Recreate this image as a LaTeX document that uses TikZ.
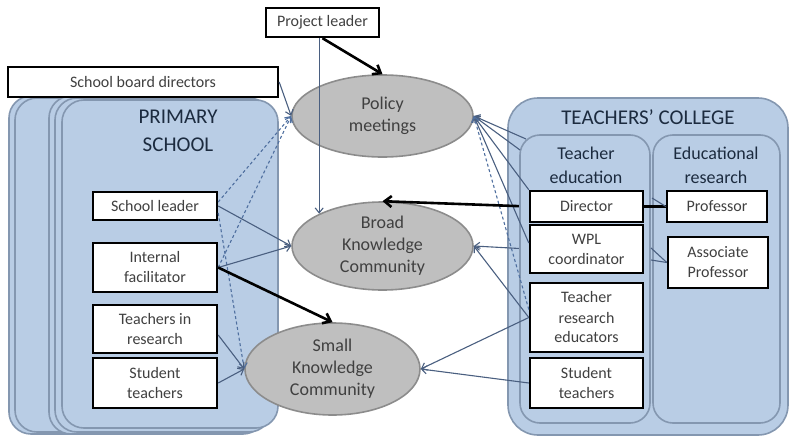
\documentclass[tikz,border=0pt]{standalone}
\usepackage{fontspec}
\setmainfont{Carlito}
\usetikzlibrary{shapes.geometric,arrows.meta,calc}
\definecolor{boxblue}{HTML}{B9CDE5}
\definecolor{boxedge}{HTML}{8497B0}
\definecolor{ellfill}{HTML}{BFBFBF}
\definecolor{elledge}{HTML}{8C8C8C}
\definecolor{txtgray}{HTML}{404040}
\definecolor{navy}{HTML}{1C2B3F}
\definecolor{conn}{HTML}{4A5F80}
\definecolor{dashc}{HTML}{4F6F9F}
\begin{document}
\begin{tikzpicture}[x=1pt,y=-1pt,
  container/.style={draw=boxedge, line width=1.6pt, fill=boxblue, rounded corners=22pt},
  role/.style={draw=black, line width=2.4pt, fill=white, inner sep=0pt, align=center, text=txtgray, font=\fontsize{16}{20}\selectfont},
  forum/.style={ellipse, draw=elledge, line width=1.6pt, fill=ellfill, inner sep=0pt, align=center, text=txtgray, font=\fontsize{18}{22}\selectfont},
  heading/.style={align=center, text=navy, font=\fontsize{21}{28}\selectfont},
  subhead/.style={align=center, text=navy, font=\fontsize{18}{24}\selectfont},
  link/.style={draw=conn, line width=1.1pt, -{Straight Barb[length=5pt,width=8pt]}},
  strong/.style={draw=black, line width=2.6pt, -{Straight Barb[length=7pt,width=11pt]}},
  dlink/.style={draw=dashc, line width=1.1pt, dash pattern=on 3pt off 2.5pt, -{Straight Barb[length=5pt,width=8pt]}},
  plain/.style={draw=conn, line width=1.1pt}
]
\useasboundingbox (0,0) rectangle (790,439);

% Primary school stack
\foreach \x/\t/\b in {9/96/434, 15/98/432, 49/96/434, 55/98/432}{
  \draw[container] (\x,\t) rectangle (\x+216,\b);
}
\draw[container] (62,100) rectangle (278,428);
\node[heading] (pstitle) at (178,131) {PRIMARY\\SCHOOL};

% Teachers' college
\draw[container, rounded corners=30pt] (508,98) rectangle (788,435);
\draw[container, rounded corners=20pt] (520,135) rectangle (650,423);
\draw[container, rounded corners=20pt] (653,135) rectangle (780,423);
\node[heading] (tctitle) at (648,117) {TEACHERS' COLLEGE};
\node[subhead] (tetitle) at (586,165) {Teacher\\education};
\node[subhead] (ertitle) at (716,165) {Educational\\research};

% Boxes
\node[role, minimum width=113pt, minimum height=29pt] (projectleader) at (322.5,22.5) {Project leader};
\node[role, minimum width=270pt, minimum height=30pt] (schoolboard) at (143,82) {School board directors};
\node[role, minimum width=124pt, minimum height=28pt] (schoolleader) at (155,206) {School leader};
\node[role, minimum width=124pt, minimum height=49pt] (internal) at (155,267.5) {Internal\\facilitator};
\node[role, minimum width=124pt, minimum height=48pt] (tir) at (155,329) {Teachers in\\research};
\node[role, minimum width=124pt, minimum height=50pt] (studentL) at (155,383) {Student\\teachers};

\node[role, minimum width=113pt, minimum height=31pt] (director) at (586.5,206.5) {Director};
\node[role, minimum width=113pt, minimum height=48pt] (wpl) at (586.5,249) {WPL\\coordinator};
\node[role, minimum width=113pt, minimum height=69pt] (tre) at (586.5,317.5) {Teacher\\research\\educators};
\node[role, minimum width=113pt, minimum height=50pt] (studentR) at (586.5,383) {Student\\teachers};
\node[role, minimum width=100pt, minimum height=31pt] (professor) at (717,206.5) {Professor};
\node[role, minimum width=100pt, minimum height=51pt] (assocprof) at (718,262.5) {Associate\\Professor};

% Forums
\node[forum, minimum width=181pt, minimum height=82pt] (policy) at (382.5,116) {Policy\\meetings};
\node[forum, minimum width=181pt, minimum height=88pt] (broad) at (382.5,246) {Broad\\Knowledge\\Community};
\node[forum, minimum width=175pt, minimum height=92pt] (small) at (332.5,369) {Small\\Knowledge\\Community};

% Left connectors
\draw[strong] (projectleader.south) -- (policy.north);
\draw[link] (projectleader.south -| broad.153) -- (broad.153);
\draw[link] (schoolboard.east) -- (policy.west);
\draw[dlink] ($(schoolleader.east)+(0,-4)$) -- (policy.west);
\draw[dlink] (internal.east) -- (policy.west);
\draw[dlink] ($(schoolleader.east)+(0,7)$) -- (small.west);
\draw[link] (schoolleader.east) -- (broad.west);
\draw[link] (internal.east) -- (broad.west);
\draw[strong] (internal.east) -- (small.north);
\draw[link] ($(tir.east)+(0,6)$) -- (small.west);
\draw[link] (studentL.east) -- (small.west);

% Right connectors
\coordinate (te1) at (526,139);
\coordinate (te2) at (520,150);
\draw[link] (te1) -- (policy.east);
\draw[link] (te2) -- (policy.east);
\draw[link] (director.north west) -- (policy.east);
\draw[link] ($(wpl.west)+(0,-6)$) -- (policy.east);
\draw[dlink] ($(tre.west)+(0,-8)$) -- (policy.east);
\draw[strong, shorten <=10pt] (director.west) -- (broad.north);
\draw[link, shorten <=10pt] (wpl.west) -- (broad.east);
\draw[link] (tre.west) -- (broad.east);
\draw[link] (tre.west) -- (small.east);
\draw[link] (studentR.west) -- (small.east);

% College internal links
\draw[black, line width=2.6pt] (director.east) -- (professor.west);
\coordinate (er1) at (652,198);
\coordinate (er2) at (651,248);
\coordinate (er3) at (651,260);
\draw[plain] (er1) -- (professor.west);
\draw[plain] (er2) -- (assocprof.west);
\draw[plain] (er3) -- (assocprof.west);
\end{tikzpicture}
\end{document}
